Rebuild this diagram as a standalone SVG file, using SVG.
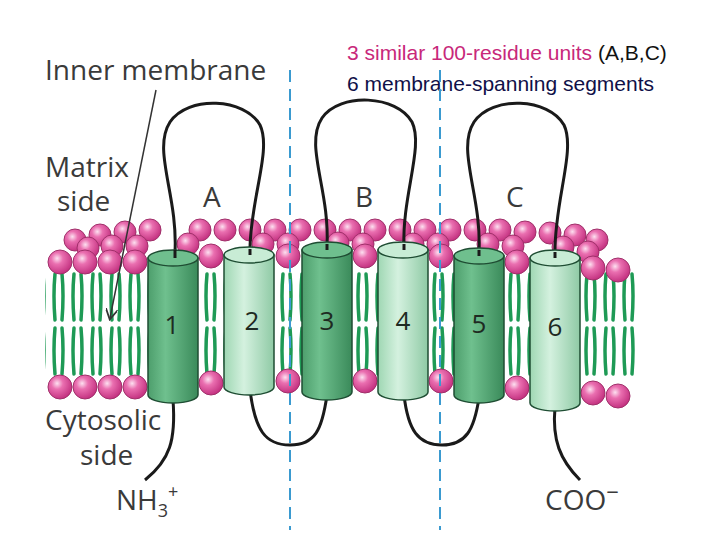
<svg xmlns="http://www.w3.org/2000/svg" width="720" height="540" viewBox="0 0 720 540">
<style>
.lbl{font-family:"Open Sans","Liberation Sans",sans-serif;fill:#3a3a3a;font-size:28px}
.num{font-family:"Open Sans","Liberation Sans",sans-serif;fill:#1e2a22;font-size:26px;text-anchor:middle}
.loop{fill:none;stroke:#1a1a1a;stroke-width:3}
.dash{stroke:#3a9ad0;stroke-width:2;stroke-dasharray:12,7}
.head{fill:url(#hg);stroke:#a0306a;stroke-width:1}
.cd{fill:url(#cgd);stroke:#1f4d33;stroke-width:1.5}
.cl{fill:url(#cgl);stroke:#1f4d33;stroke-width:1.5}
.td{fill:#6fbf8e;stroke:#1f4d33;stroke-width:1.5}
.tl{fill:#c8ecd5;stroke:#1f4d33;stroke-width:1.5}
</style>
<defs>
<radialGradient id="hg" cx="0.38" cy="0.35" r="0.7"><stop offset="0" stop-color="#fde0f0"/><stop offset="0.35" stop-color="#ea6fb0"/><stop offset="1" stop-color="#c02c7c"/></radialGradient>
<linearGradient id="cgd" x1="0" x2="1"><stop offset="0" stop-color="#4d9e6c"/><stop offset="0.35" stop-color="#6fc08e"/><stop offset="1" stop-color="#3a8a5a"/></linearGradient>
<linearGradient id="cgl" x1="0" x2="1"><stop offset="0" stop-color="#9fd7b3"/><stop offset="0.4" stop-color="#d4f1df"/><stop offset="1" stop-color="#8fcaa5"/></linearGradient>
<pattern id="tails" x="50" y="270" width="19" height="110" patternUnits="userSpaceOnUse">
<path d="M5 4 Q3 25 5 50 M12 4 Q14 25 12 50 M5 58 Q3 80 5 104 M12 58 Q14 80 12 104" fill="none" stroke="#1e9a55" stroke-width="3.5" stroke-linecap="round"/>
</pattern>
<marker id="ar" markerWidth="8" markerHeight="8" refX="6" refY="4" orient="auto"><path d="M0 0L7 4L0 8" fill="none" stroke="#333" stroke-width="1.2"/></marker>
</defs>
<rect width="720" height="540" fill="#fff"/>
<text class="lbl" x="45" y="80">Inner membrane</text>
<text class="lbl" x="45" y="177">Matrix</text>
<text class="lbl" x="57" y="211">side</text>
<text class="lbl" x="45" y="430">Cytosolic</text>
<text class="lbl" x="80" y="465">side</text>
<text class="lbl" x="203" y="207">A</text>
<text class="lbl" x="355" y="207">B</text>
<text class="lbl" x="506" y="207">C</text>
<text class="lbl" x="116" y="510">NH<tspan font-size="18" dy="7">3</tspan><tspan font-size="18" dy="-19">+</tspan></text>
<text class="lbl" x="545" y="510">COO<tspan font-size="22" dy="-10">−</tspan></text>
<text x="347" y="60" font-family="Liberation Sans,Arial,sans-serif" font-size="21" fill="#c8287a">3 similar 100-residue units <tspan fill="#111">(A,B,C)</tspan></text>
<text x="347" y="91" font-family="Liberation Sans,Arial,sans-serif" font-size="21" fill="#101048">6 membrane-spanning segments</text>
<g id="membrane">
<rect x="45" y="268" width="590" height="112" fill="url(#tails)"/>
<g id="heads-back">
<circle class="head" cx="75" cy="240" r="11"/><circle class="head" cx="100" cy="235" r="11"/><circle class="head" cx="125" cy="232" r="11"/><circle class="head" cx="150" cy="230" r="11"/>
<circle class="head" cx="200" cy="230" r="11"/><circle class="head" cx="225" cy="230" r="11"/><circle class="head" cx="250" cy="230" r="11"/><circle class="head" cx="275" cy="230" r="11"/><circle class="head" cx="300" cy="230" r="11"/><circle class="head" cx="325" cy="230" r="11"/><circle class="head" cx="350" cy="230" r="11"/><circle class="head" cx="375" cy="230" r="11"/><circle class="head" cx="400" cy="230" r="11"/><circle class="head" cx="425" cy="230" r="11"/><circle class="head" cx="450" cy="230" r="11"/><circle class="head" cx="475" cy="230" r="11"/><circle class="head" cx="500" cy="230" r="11"/><circle class="head" cx="525" cy="232" r="11"/><circle class="head" cx="550" cy="233" r="11"/><circle class="head" cx="575" cy="235" r="11"/><circle class="head" cx="597" cy="240" r="11"/>
<circle class="head" cx="88" cy="248" r="11"/><circle class="head" cx="112" cy="246" r="11"/><circle class="head" cx="137" cy="246" r="11"/><circle class="head" cx="188" cy="244" r="11"/><circle class="head" cx="263" cy="244" r="11"/><circle class="head" cx="288" cy="244" r="11"/><circle class="head" cx="338" cy="243" r="11"/><circle class="head" cx="363" cy="244" r="11"/><circle class="head" cx="413" cy="244" r="11"/><circle class="head" cx="438" cy="244" r="11"/><circle class="head" cx="488" cy="244" r="11"/><circle class="head" cx="513" cy="246" r="11"/><circle class="head" cx="563" cy="247" r="11"/><circle class="head" cx="588" cy="252" r="11"/>
</g>
<g id="heads-front">
<circle class="head" cx="60" cy="262" r="12"/><circle class="head" cx="85" cy="262" r="12"/><circle class="head" cx="110" cy="262" r="12"/><circle class="head" cx="135" cy="262" r="12"/>
<circle class="head" cx="211" cy="256" r="12"/><circle class="head" cx="288" cy="256" r="12"/><circle class="head" cx="365" cy="256" r="12"/><circle class="head" cx="441" cy="256" r="12"/><circle class="head" cx="517" cy="262" r="12"/><circle class="head" cx="593" cy="268" r="12"/><circle class="head" cx="618" cy="270" r="12"/>
<circle class="head" cx="60" cy="387" r="12"/><circle class="head" cx="85" cy="387" r="12"/><circle class="head" cx="110" cy="387" r="12"/><circle class="head" cx="135" cy="387" r="12"/>
<circle class="head" cx="211" cy="383" r="12"/><circle class="head" cx="288" cy="381" r="12"/><circle class="head" cx="365" cy="381" r="12"/><circle class="head" cx="441" cy="381" r="12"/><circle class="head" cx="517" cy="388" r="12"/><circle class="head" cx="593" cy="393" r="12"/><circle class="head" cx="618" cy="396" r="12"/>
</g>
</g>
<g id="dashes"><line class="dash" x1="290" y1="70" x2="290" y2="530"/><line class="dash" x1="440" y1="70" x2="440" y2="530"/></g>
<g id="connectors">
<path class="loop" d="M175 252 C178 195 152 150 170 122 C188 95 245 98 260 125 C272 150 250 200 250 250"/>
<path class="loop" d="M327 246 C330 190 304 145 322 118 C340 92 397 95 412 122 C424 146 402 196 404 246"/>
<path class="loop" d="M479 252 C482 196 456 150 474 122 C492 95 549 98 564 125 C576 150 554 202 555 254"/>
<path class="loop" d="M250 390 C255 430 265 445 290 445 C315 445 322 430 327 395"/>
<path class="loop" d="M404 395 C408 430 418 445 442 445 C466 445 474 430 479 398"/>
<path class="loop" d="M173 400 C176 440 170 460 145 480"/>
<path class="loop" d="M555 407 C552 440 560 460 580 480"/>
<line x1="156" y1="90" x2="110" y2="318" stroke="#333" stroke-width="1.5" marker-end="url(#ar)"/>
</g>
<g id="n1"><path class="cd" d="M148 258 V395 A25 8 0 0 0 198 395 V258 Z"/><ellipse class="td" cx="173" cy="258" rx="25" ry="8"/><text class="num" x="172" y="334">1</text></g>
<g id="n2"><path class="cl" d="M224 255 V387 A25 8 0 0 0 274 387 V255 Z"/><ellipse class="tl" cx="249" cy="255" rx="25" ry="8"/><text class="num" x="252" y="330">2</text></g>
<g id="n3"><path class="cd" d="M302 250 V392 A25 8 0 0 0 352 392 V250 Z"/><ellipse class="td" cx="327" cy="250" rx="25" ry="8"/><text class="num" x="327" y="330">3</text></g>
<g id="n4"><path class="cl" d="M378 250 V392 A25 8 0 0 0 428 392 V250 Z"/><ellipse class="tl" cx="403" cy="250" rx="25" ry="8"/><text class="num" x="403" y="330">4</text></g>
<g id="n5"><path class="cd" d="M454 256 V395 A25 8 0 0 0 504 395 V256 Z"/><ellipse class="td" cx="479" cy="256" rx="25" ry="8"/><text class="num" x="479" y="333">5</text></g>
<g id="n6"><path class="cl" d="M530 258 V403 A25 8 0 0 0 580 403 V258 Z"/><ellipse class="tl" cx="555" cy="258" rx="25" ry="8"/><text class="num" x="555" y="336">6</text></g>
<g id="loop-ends">
<path class="loop" d="M175 258 L175 250"/><path class="loop" d="M250 255 L250 249"/><path class="loop" d="M327 250 L327 244"/><path class="loop" d="M404 250 L404 244"/><path class="loop" d="M479 256 L479 250"/><path class="loop" d="M555 258 L555 252"/>
</g>
</svg>
